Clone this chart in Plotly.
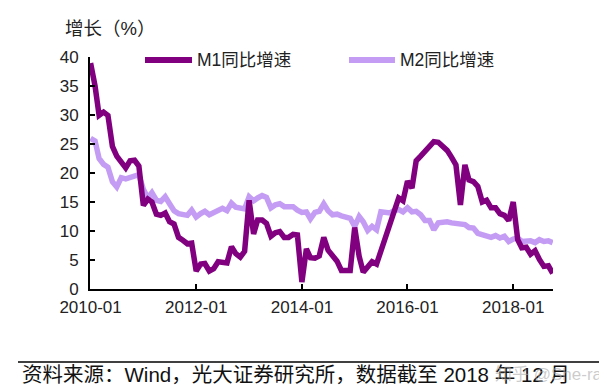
import plotly.graph_objects as go
import pandas as pd

months = pd.date_range("2010-01-01", "2018-10-01", freq="MS").strftime("%Y-%m-%d").tolist()

m1 = [
    38.96, 34.99, 29.94, 30.5, 29.93, 24.57, 22.92, 21.92, 20.89, 22.1, 22.2, 21.19,
    14.4, 15.5, 15.0, 12.9, 12.7, 13.1, 11.6, 11.2, 8.9, 8.4, 7.8, 7.9,
    3.1, 4.3, 4.4, 3.1, 3.5, 4.7, 4.6, 4.5, 7.3, 6.1, 5.5, 6.5,
    15.3, 9.5, 11.9, 11.9, 11.3, 9.1, 9.7, 9.9, 8.9, 8.9, 9.4, 9.3,
    1.2, 6.9, 5.4, 5.3, 5.7, 8.9, 6.7, 5.7, 4.8, 3.2, 3.2, 3.2,
    10.6, 5.6, 2.9, 3.7, 4.7, 4.3, 6.6, 9.3, 11.4, 14.0, 15.7, 15.2,
    18.6, 17.4, 22.1, 22.9, 23.7, 24.6, 25.4, 25.3, 24.7, 23.9, 22.7, 21.4,
    14.5, 21.4, 18.8, 18.5, 17.7, 15.0, 15.3, 14.0, 14.0, 13.0, 12.7, 11.8,
    15.0, 8.5, 7.1, 7.2, 6.0, 6.6, 5.1, 3.9, 4.0, 2.7,
]

m2 = [
    25.98, 25.52, 22.5, 21.48, 21.0, 18.5, 17.6, 19.2, 19.0, 19.3, 19.5, 19.7,
    17.2, 15.7, 16.6, 15.3, 15.1, 15.9, 14.7, 13.5, 13.0, 12.9, 12.7, 13.6,
    12.4, 13.0, 13.4, 12.8, 13.2, 13.6, 13.9, 13.5, 14.8, 14.1, 13.9, 13.8,
    15.9, 15.2, 15.7, 16.1, 15.8, 14.0, 14.5, 14.7, 14.2, 14.3, 14.2, 13.6,
    13.2, 13.3, 12.1, 13.2, 13.4, 14.7, 13.5, 12.8, 12.9, 12.6, 12.3, 12.2,
    10.8, 12.5, 11.6, 10.1, 10.8, 10.2, 13.3, 13.3, 13.1, 13.5, 13.7, 13.3,
    14.0, 13.3, 13.4, 12.8, 11.8, 11.8, 10.2, 11.4, 11.5, 11.6, 11.4, 11.3,
    11.3, 11.1, 10.6, 10.5, 9.6, 9.4, 9.2, 8.9, 9.2, 8.8, 9.1, 8.2,
    8.6, 8.8, 8.2, 8.3, 8.3, 8.0, 8.5, 8.2, 8.3, 8.0,
]

series_names = ["M1同比增速", "M2同比增速"]
colors = ["#800080", "#C49CF4"]
tick_vals = ["2010-01-01", "2012-01-01", "2014-01-01", "2016-01-01", "2018-01-01"]
tick_text = ["2010-01", "2012-01", "2014-01", "2016-01", "2018-01"]
y_title = "增长（%）"
footer = "资料来源：Wind，光大证券研究所，数据截至 2018 年 12 月"

FONT = "Liberation Sans, Arial, Noto Sans CJK SC, sans-serif"

fig = go.Figure()
# draw M2 first so M1 is on top
fig.add_trace(go.Scatter(x=months, y=m2, mode="lines", name=series_names[1],
                         line=dict(color=colors[1], width=5.5), showlegend=False))
fig.add_trace(go.Scatter(x=months, y=m1, mode="lines", name=series_names[0],
                         line=dict(color=colors[0], width=5.5), showlegend=False))

fig.update_layout(
    width=599, height=377,
    margin=dict(l=82, r=54, t=49, b=96),
    paper_bgcolor="white", plot_bgcolor="white",
    font=dict(family=FONT, size=17, color="#222222"),
    xaxis=dict(
        range=["2009-12-28", "2018-10-03"],
        tickvals=tick_vals, ticktext=tick_text,
        showgrid=False, zeroline=False,
        showline=True, linecolor="black", linewidth=2,
        ticks="inside", ticklen=5, tickwidth=1.5, tickcolor="black",
        tickfont=dict(size=17, color="#222222"),
        ticklabelstandoff=2,
    ),
    yaxis=dict(
        range=[0, 40], dtick=5, tick0=0,
        showgrid=False, zeroline=False,
        showline=True, linecolor="black", linewidth=2,
        ticks="inside", ticklen=5, tickwidth=1.5, tickcolor="black",
        tickfont=dict(size=17, color="#222222"),
        ticklabelstandoff=6,
    ),
)

# custom legend
leg = [(0.1188, 0.2203, 0.2268), (0.5594, 0.6587, 0.6652)]
for (x0, x1, xt), name, col in zip(leg, series_names, colors):
    fig.add_shape(type="line", xref="paper", yref="paper", x0=x0, x1=x1, y0=0.987, y1=0.987,
                  line=dict(color=col, width=6))
    fig.add_annotation(xref="paper", yref="paper", x=xt, y=0.987, text=name, showarrow=False,
                       xanchor="left", yanchor="middle", font=dict(size=17.5, color="#222222"))

fig.add_annotation(xref="paper", yref="paper", x=-0.0583, y=1.1207, text=y_title, showarrow=False,
                   xanchor="left", yanchor="middle", font=dict(size=18.5, color="#222222"))

# footer line and text
fig.add_shape(type="line", xref="paper", yref="paper", x0=-0.1555, x1=1.108, y0=-0.3147, y1=-0.3147,
              line=dict(color="black", width=1.5))
fig.add_annotation(xref="paper", yref="paper", x=-0.1512, y=-0.37, text=footer, showarrow=False,
                   xanchor="left", yanchor="middle", font=dict(size=20.5, color="#111111"))
fig.add_annotation(xref="paper", yref="paper", x=0.87, y=-0.37, text="知乎 @She-ra", showarrow=False,
                   xanchor="left", yanchor="middle", font=dict(size=17, color="rgba(170,170,170,0.6)"))

fig.write_html("out.html")
